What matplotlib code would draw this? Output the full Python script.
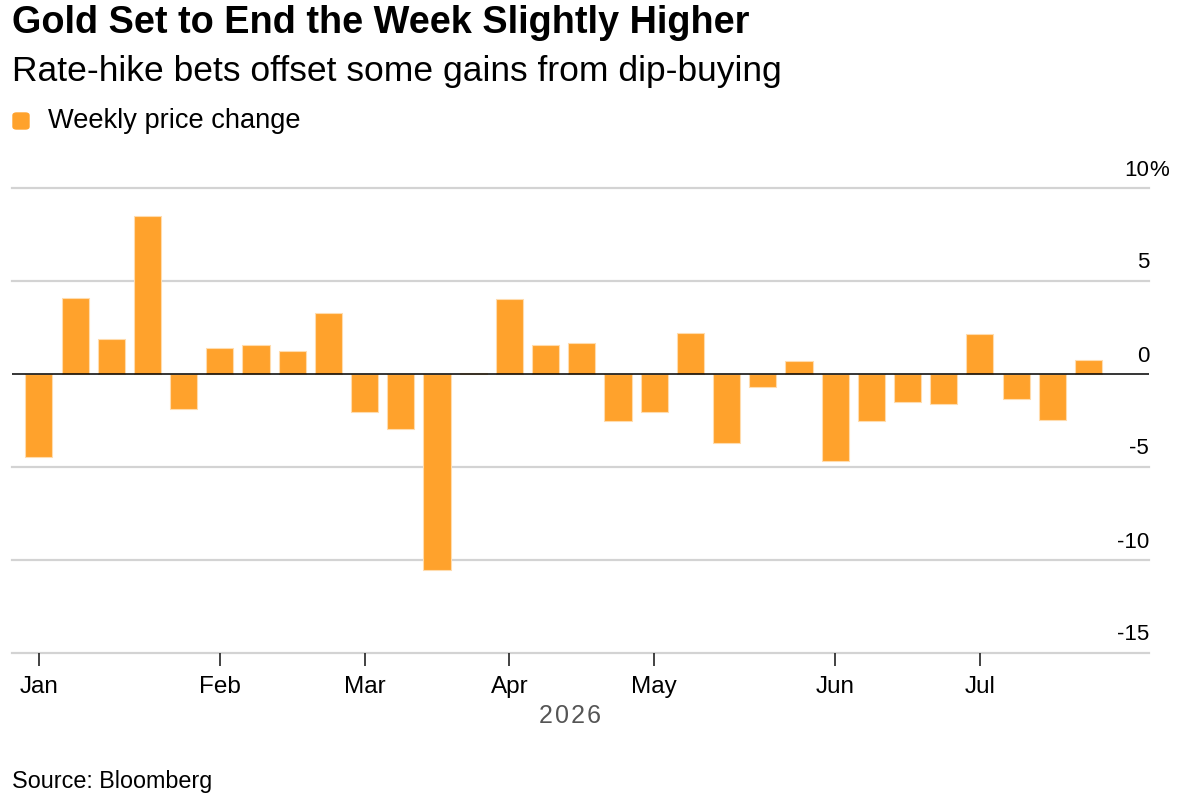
import matplotlib
matplotlib.use("Agg")
import matplotlib.pyplot as plt
from matplotlib.patches import FancyBboxPatch
import pandas as pd

# weekly gold price change, % (week ending Fridays, 2026)
week_end = pd.date_range("2026-01-02", periods=30, freq="7D")
weekly_change = [-4.46, 4.07, 1.88, 8.48, -1.90, 1.40, 1.54, 1.25, 3.30, -2.04,
                 -2.96, -10.52, 0.05, 4.05, 1.54, 1.68, -2.51, -2.03, 2.19, -3.73,
                 -0.68, 0.68, -4.68, -2.53, -1.52, -1.61, 2.15, -1.36, -2.49, 0.73]
y_ticks = [10, 5, 0, -5, -10, -15]
month_labels = ["Jan", "Feb", "Mar", "Apr", "May", "Jun", "Jul"]

orange = "#ffa22c"
grid_col = "#d3d3d3"
plt.rcParams["font.family"] = ["Liberation Sans", "DejaVu Sans"]

fig = plt.figure(figsize=(11.82, 7.98), dpi=100)
ax = fig.add_axes([12 / 1182, 1 - 653 / 798, (1149 - 12) / 1182, (653 - 188) / 798])

ax.bar(week_end, weekly_change, width=5.25, color=orange, edgecolor="#ffdcae",
       linewidth=0.8, zorder=2)
ax.axhline(0, color="black", lw=1.3, alpha=0.85, zorder=3)

ax.set_ylim(-15, 10)
ax.set_xlim(week_end[0] - pd.Timedelta(days=5.2), week_end[-1] + pd.Timedelta(days=11.7))

for v in y_ticks:
    if v != 0:
        ax.axhline(v, color=grid_col, lw=1.6, zorder=1, clip_on=False)
    ax.annotate(str(v), xy=(1, v), xycoords=("axes fraction", "data"),
                xytext=(0, 9), textcoords="offset points",
                ha="right", va="baseline", fontsize=16, color="black")
ax.annotate("%", xy=(1, y_ticks[0]), xycoords=("axes fraction", "data"),
            xytext=(0, 9), textcoords="offset points",
            ha="left", va="baseline", fontsize=16, color="black")

# month ticks sit on the first bar of each month
first_in_month = []
seen = set()
for d in week_end:
    if d.month not in seen:
        seen.add(d.month)
        first_in_month.append(d)
ax.set_xticks(first_in_month)
ax.set_xticklabels(month_labels, fontsize=17.5)
ax.tick_params(axis="x", length=9, width=1.2, color="#222222", pad=7.5)
ax.set_yticks([])

for s in ax.spines.values():
    s.set_visible(False)

fig.text(570 / 1182, 1 - 723 / 798, "2\u200a0\u200a2\u200a6", ha="center", va="baseline",
         fontsize=18, color="#555555")

fig.text(12 / 1182, 1 - 33 / 798, "Gold Set to End the Week Slightly Higher",
         fontsize=27.3, fontweight="bold", va="baseline", ha="left")
fig.text(12 / 1182, 1 - 81 / 798, "Rate-hike bets offset some gains from dip-buying",
         fontsize=25.5, va="baseline", ha="left")
fig.patches.append(FancyBboxPatch((13 / 1182, 1 - 129 / 798), 16 / 1182, 16 / 798,
                                  boxstyle="round,pad=0,rounding_size=0.003",
                                  transform=fig.transFigure, color=orange))
fig.text(48 / 1182, 1 - 128 / 798, "Weekly price change", fontsize=19.6,
         va="baseline", ha="left")
fig.text(12 / 1182, 1 - 788 / 798, "Source: Bloomberg", fontsize=16.8,
         va="baseline", ha="left")

fig.savefig("out.png", dpi=100)
